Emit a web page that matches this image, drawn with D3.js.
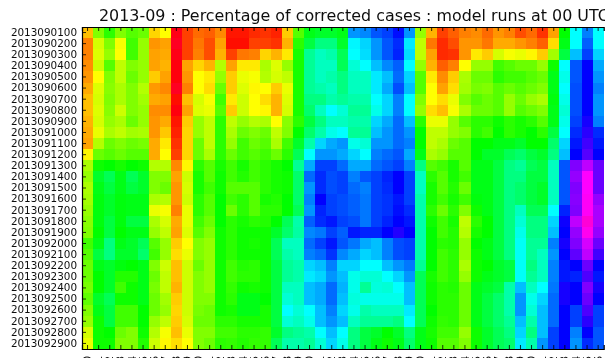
<!DOCTYPE html>
<html><head><meta charset="utf-8">
<script src="https://cdn.jsdelivr.net/npm/d3@7"></script>
<style>html,body{margin:0;padding:0;background:#fff;overflow:hidden}svg{display:block}text{font-family:"DejaVu Sans",sans-serif}</style>
</head><body><svg id="c" width="605" height="358"></svg>
<script>
const titleText = "2013-09 : Percentage of corrected cases : model runs at 00 UTC";
const runs = ["2013090100","2013090200","2013090300","2013090400","2013090500","2013090600","2013090700","2013090800","2013090900","2013091000","2013091100","2013091200","2013091300","2013091400","2013091500","2013091600","2013091700","2013091800","2013091900","2013092000","2013092100","2013092200","2013092300","2013092400","2013092500","2013092600","2013092700","2013092800","2013092900"];
const leads = ["00","01","02","03","04","05","06","07","08","09","10","11","12","13","14","15","16","17","18","19","20","21","22","23","24","25","26","27","28","29","30","31","32","33","34","35","36","37","38","39","40","41","42","43","44","45","46"];
// colour position of each cell
const corrected = [
[45,90,110,90,100,95,50,60,-5,15,25,22,32,5,5,10,12,8,48,100,125,130,130,125,205,208,220,225,238,205,85,42,15,22,30,33,25,35,30,18,25,12,38,120,180,210,180],
[30,70,90,62,105,85,35,38,-8,15,28,18,38,2,4,15,15,12,42,110,135,150,150,130,182,190,205,220,230,185,75,28,10,18,35,35,28,40,40,35,30,22,52,125,180,218,180],
[30,68,85,60,105,85,38,40,-5,15,30,18,42,15,28,30,50,42,55,115,155,165,160,140,180,188,205,220,232,188,75,38,10,12,35,55,48,70,62,65,58,48,82,135,195,225,190],
[33,72,100,75,90,85,38,42,-2,38,50,42,78,38,55,55,80,68,85,115,155,165,165,140,170,180,195,208,218,180,85,42,22,30,60,85,85,105,100,95,95,85,118,180,220,240,200],
[35,60,90,75,95,85,48,38,-2,35,60,55,85,48,65,62,78,70,75,115,155,165,160,150,165,165,185,195,215,190,100,55,33,48,80,95,95,110,105,105,100,95,125,175,220,240,205],
[40,68,88,80,90,78,36,32,-8,30,60,52,95,48,68,58,60,48,65,115,155,160,165,150,165,165,185,200,222,195,100,60,38,52,82,92,90,100,95,100,95,90,125,180,222,240,210],
[45,70,90,80,90,82,40,38,3,45,70,62,105,55,72,60,52,42,68,115,150,150,160,155,160,160,180,190,210,180,90,60,52,65,90,100,95,100,85,95,85,80,122,175,222,240,205],
[45,68,88,72,90,85,33,33,-3,38,68,65,100,48,72,60,58,42,70,115,145,165,180,170,155,155,175,190,210,180,85,52,45,62,80,95,95,100,85,100,95,90,125,170,222,240,205],
[42,70,85,80,95,85,35,40,5,48,85,75,110,75,85,78,80,60,88,110,135,150,165,165,160,160,190,200,215,195,110,65,65,85,100,110,110,118,110,115,110,100,125,175,225,245,210],
[40,65,80,75,82,80,35,47,8,50,85,75,110,80,95,90,95,75,90,120,145,160,175,180,155,155,195,205,215,205,120,75,75,85,90,110,105,120,110,115,120,110,135,180,230,250,230],
[38,78,95,90,95,92,40,55,12,50,95,75,110,85,105,95,100,80,105,130,160,190,200,205,175,170,205,205,215,210,120,75,80,95,100,120,120,125,125,130,120,120,145,190,235,255,235],
[58,95,100,95,100,100,40,60,15,50,95,80,110,95,105,100,105,95,110,140,180,205,205,200,190,180,210,215,220,200,125,80,85,100,100,120,130,130,140,145,135,130,150,195,240,260,240],
[80,118,120,115,120,118,78,78,32,58,110,100,115,105,115,105,110,115,120,155,200,225,225,215,200,200,215,220,225,210,150,100,105,115,100,125,125,135,150,155,140,135,165,220,270,285,265],
[85,130,140,125,140,130,90,90,38,72,115,100,118,105,112,105,110,115,118,145,215,230,222,225,210,220,225,232,240,225,165,110,100,115,105,125,125,135,150,150,135,135,165,220,275,300,265],
[80,125,135,125,135,130,90,95,35,70,115,105,118,100,100,100,110,115,118,145,205,230,222,225,215,210,225,230,240,225,165,115,100,112,95,125,125,135,150,145,135,130,165,220,270,300,265],
[82,122,130,122,125,125,80,78,35,72,110,100,120,105,110,100,115,112,120,145,210,240,225,222,218,212,225,228,235,225,160,115,105,115,105,122,125,135,150,145,135,130,165,220,272,305,275],
[85,122,130,122,125,125,65,62,30,65,110,100,120,95,110,100,110,110,120,140,205,232,225,222,218,212,225,228,238,230,160,110,95,110,90,118,125,135,150,165,140,140,180,232,270,305,280],
[88,122,135,122,135,135,80,70,40,65,105,95,120,110,115,110,112,120,140,160,218,230,235,225,222,212,225,232,240,235,160,118,105,115,75,110,120,135,150,170,150,150,190,242,285,325,280],
[90,120,135,120,125,125,85,75,38,68,100,90,118,110,118,118,118,130,145,158,208,212,225,218,235,232,232,240,248,240,160,120,105,112,78,115,120,135,150,175,150,150,195,240,275,310,275],
[105,125,150,125,130,140,100,85,48,60,90,85,118,110,118,115,118,140,165,165,215,225,235,220,212,200,195,210,222,225,160,120,110,112,85,120,125,135,150,178,155,155,210,245,270,290,265],
[100,135,150,130,130,145,105,85,52,65,90,85,118,110,118,118,118,140,160,165,210,215,228,208,200,190,195,210,222,225,160,120,105,110,85,118,125,135,150,178,155,165,205,240,262,285,255],
[95,125,130,122,120,125,90,72,45,72,95,85,118,105,112,110,118,135,155,160,190,195,210,190,190,180,180,195,205,212,155,120,105,110,80,118,120,130,135,178,150,165,210,235,240,265,240],
[95,120,130,112,112,125,95,75,45,72,90,85,118,105,110,110,118,135,155,160,185,190,205,195,175,170,170,180,190,205,140,115,105,110,85,118,125,130,135,178,155,165,210,235,232,258,235],
[92,120,130,105,118,125,92,75,42,72,90,85,118,108,118,115,118,135,165,165,195,200,215,198,175,155,172,170,180,195,140,118,110,112,95,125,130,135,160,195,165,180,212,245,240,270,245],
[98,130,140,118,118,125,95,82,48,72,90,90,118,110,125,125,120,135,170,165,195,200,215,195,172,175,175,175,175,195,140,118,110,110,95,125,135,145,160,205,175,190,215,245,240,265,240],
[90,125,135,105,105,120,95,85,50,72,92,95,118,115,125,125,115,135,180,170,180,195,210,190,175,160,165,165,165,185,140,120,110,110,95,125,135,145,160,205,170,195,215,240,225,258,225],
[85,118,135,105,105,120,85,75,48,70,95,95,110,110,115,115,115,135,170,165,175,195,205,195,165,155,155,155,150,180,140,118,108,110,95,125,135,145,155,195,160,195,215,240,225,250,225],
[70,118,120,95,90,118,78,62,45,65,90,90,105,105,110,110,108,130,150,155,160,180,195,180,150,135,130,120,130,150,125,115,105,105,85,118,130,140,150,190,150,195,225,240,210,240,220],
[65,118,118,90,90,112,72,58,52,60,90,95,110,108,112,108,108,140,160,160,155,170,190,175,150,135,125,118,125,145,125,118,100,100,90,118,130,140,145,185,160,205,225,240,205,230,220]
];
const rainbowDomain = [-10,0,60,120,180,240,300,340];
const rainbowRange = ["#ff002a","#ff0000","#ffff00","#00ff00","#00ffff","#0000ff","#ff00ff","#ff00bf"];

const svg = d3.select("#c");
const left = 82, top0 = 27, bottom = 349;
const x = d3.scaleBand().domain(leads).range([left, left + 11.1 * leads.length]);
const y = d3.scaleBand().domain(runs).range([top0, bottom]);
const color = d3.scaleLinear().domain(rainbowDomain).range(rainbowRange).interpolate(d3.interpolateRgb);

const defs = svg.append("defs");
defs.append("filter").attr("id","soft").attr("x","-2%").attr("y","-2%").attr("width","104%").attr("height","104%")
  .append("feGaussianBlur").attr("stdDeviation",0.7);
defs.append("filter").attr("id","softText").attr("x","-5%").attr("y","-5%").attr("width","110%").attr("height","110%")
  .append("feGaussianBlur").attr("stdDeviation",0.35);

svg.append("g").attr("filter","url(#soft)").attr("shape-rendering","crispEdges")
  .selectAll("g").data(corrected).join("g")
  .selectAll("rect").data((row,r)=>row.map((v,c)=>({v,r,c}))).join("rect")
  .attr("x",d=>x(leads[d.c])).attr("y",d=>y(runs[d.r]))
  .attr("width",x.bandwidth()+0.5).attr("height",y.bandwidth()+0.5)
  .attr("fill",d=>color(d.v));

const chrome = svg.append("g").attr("filter","url(#softText)");
const yAxis = d3.axisLeft(y).tickSize(-4).tickPadding(5);
const gy = chrome.append("g").attr("transform",`translate(${left},0)`).call(yAxis);
gy.selectAll("text").attr("x",-5).attr("font-size",10.4).attr("fill","#111").attr("text-anchor","end");
const xTop = chrome.append("g").attr("transform",`translate(0,${top0})`).call(d3.axisTop(x).tickSize(-4).tickFormat(""));
const xBot = chrome.append("g").attr("transform",`translate(0,${bottom})`).call(d3.axisBottom(x).tickSize(-4).tickPadding(0));
xBot.selectAll("text").attr("transform","rotate(-90)").attr("text-anchor","end").attr("dy","0.35em")
  .attr("x",-7).attr("y",0).attr("font-size",10.4).attr("fill","#111");
chrome.selectAll(".domain").attr("stroke","#000").attr("stroke-width",1.2);
chrome.selectAll(".tick line").attr("stroke","#000").attr("stroke-width",0.8);
chrome.append("text").attr("x",99).attr("y",21).attr("font-size",15.9).attr("fill","#111").text(titleText);
</script></body></html>
